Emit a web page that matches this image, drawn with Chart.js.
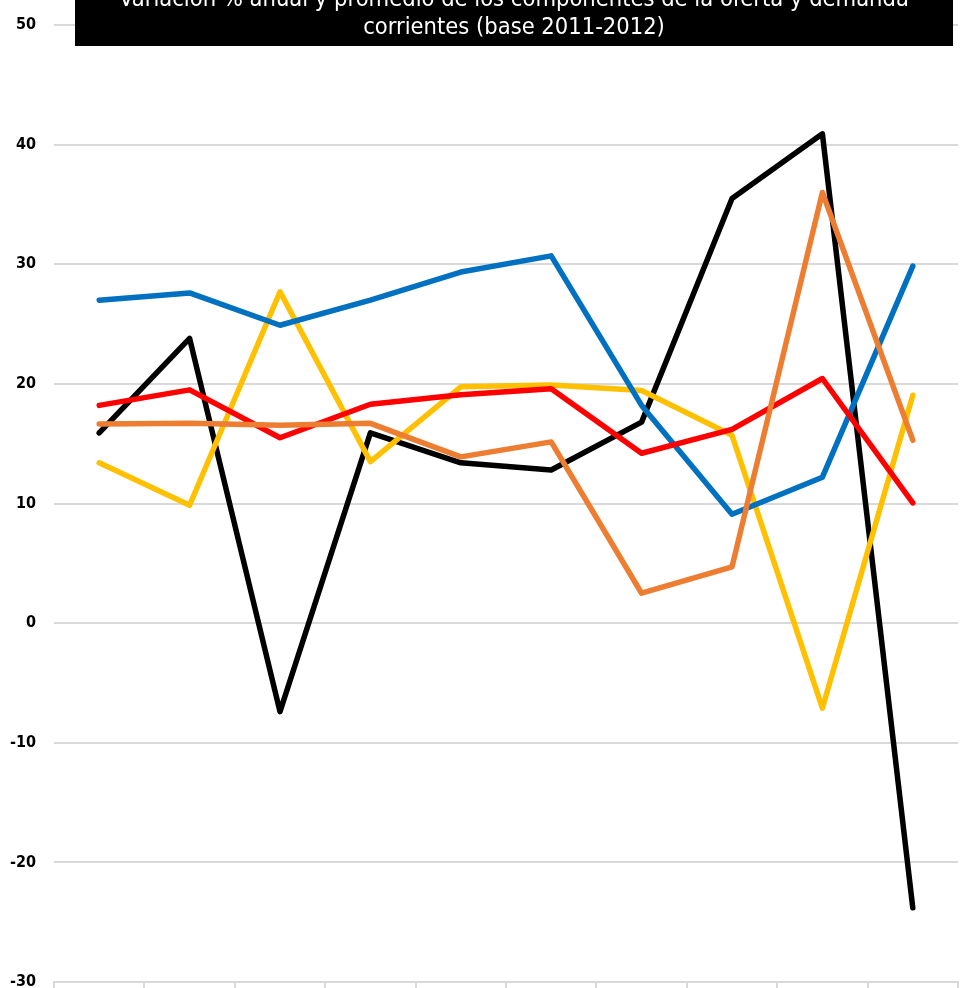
<!DOCTYPE html>
<html>
<head>
<meta charset="utf-8">
<script src="https://cdn.jsdelivr.net/npm/chart.js@4/dist/chart.umd.min.js"></script>
<style>
  html, body { margin: 0; padding: 0; background: #fff; }
  #wrap { width: 961px; height: 988px; position: relative; }
</style>
</head>
<body>
<div id="wrap"><canvas id="chart"></canvas></div>
<script>
// periodos (etiquetas del eje X, no visibles en el recorte)
const years = ['2013', '2014', '2015', '2016', '2017', '2018', '2019', '2020', '2021', '2022'];

const yTicks = [50, 40, 30, 20, 10, 0, -10, -20, -30];

// variacion % anual por componente
const serieNegra = [15.9, 23.8, -7.4, 15.9, 13.4, 12.8, 16.8, 35.5, 40.9, -23.8];
const serieAzul = [27.0, 27.6, 24.9, 27.0, 29.35, 30.7, 18.2, 9.1, 12.2, 29.85];
const serieNaranja = [16.65, 16.7, 16.55, 16.7, 13.9, 15.15, 2.5, 4.7, 36.0, 15.3];
const serieAmarilla = [13.4, 9.85, 27.7, 13.5, 19.75, 19.9, 19.45, 15.7, -7.1, 19.05];
const serieRoja = [18.2, 19.5, 15.5, 18.3, 19.1, 19.6, 14.2, 16.2, 20.45, 10.05];

const titleLines = [
    'Variación % anual y promedio de los componentes de la oferta y demanda',
    'corrientes (base 2011-2012)'
];

const condensed = "'Liberation Sans Narrow', 'DejaVu Sans Condensed', sans-serif";

// caja negra del titulo, encima del area del grafico
const titleBox = {
    id: 'titleBox',
    afterDraw(chart) {
        const ctx = chart.ctx;
        ctx.save();
        ctx.fillStyle = '#000';
        ctx.fillRect(75, 0, 878, 46);
        ctx.fillStyle = '#fff';
        ctx.font = '23.5px ' + condensed;
        ctx.textAlign = 'center';
        ctx.textBaseline = 'middle';
        ctx.fillText(titleLines[0], 514, 0);
        ctx.fillText(titleLines[1], 514, 28);
        ctx.restore();
    }
};

function line(label, data, color) {
    return {
        label: label,
        data: data,
        borderColor: color,
        backgroundColor: color,
        borderWidth: 5.5,
        borderCapStyle: 'round',
        borderJoinStyle: 'round',
        pointRadius: 0,
        tension: 0,
        fill: false
    };
}

new Chart(document.getElementById('chart'), {
    type: 'line',
    data: {
        labels: years,
        datasets: [
            line('Importaciones', serieNaranja, '#ED7D31'),
            line('Consumo', serieRoja, '#FF0000'),
            line('Formación bruta de capital', serieAzul, '#0070C0'),
            line('Exportaciones', serieAmarilla, '#FFC000'),
            line('Variación de existencias', serieNegra, '#000000')
        ]
    },
    options: {
        responsive: true,
        maintainAspectRatio: false,
        animation: false,
        layout: { padding: { top: 25, right: 3, bottom: 0, left: 0 } },
        plugins: {
            legend: { display: false },
            title: { display: false },
            tooltip: { enabled: false }
        },
        scales: {
            x: {
                offset: true,
                ticks: { display: false },
                afterFit: function (scale) {
                    scale.height = 6;
                },
                grid: {
                    offset: true,
                    drawOnChartArea: false,
                    tickLength: 6,
                    color: '#d9d9d9',
                    lineWidth: 2
                },
                border: { color: '#d9d9d9', width: 2 }
            },
            y: {
                min: -30,
                max: 50,
                afterBuildTicks: function (scale) {
                    scale.ticks = yTicks.map(v => ({ value: v }));
                },
                afterFit: function (scale) {
                    scale.width = 54;
                    scale.paddingTop = 0;
                    scale.paddingBottom = 0;
                },
                ticks: {
                    padding: 18,
                    color: '#000',
                    font: { family: condensed, size: 16, weight: 'bold' }
                },
                grid: { color: '#d9d9d9', lineWidth: 2, drawTicks: false },
                border: { display: false }
            }
        }
    },
    plugins: [titleBox]
});
</script>
</body>
</html>
